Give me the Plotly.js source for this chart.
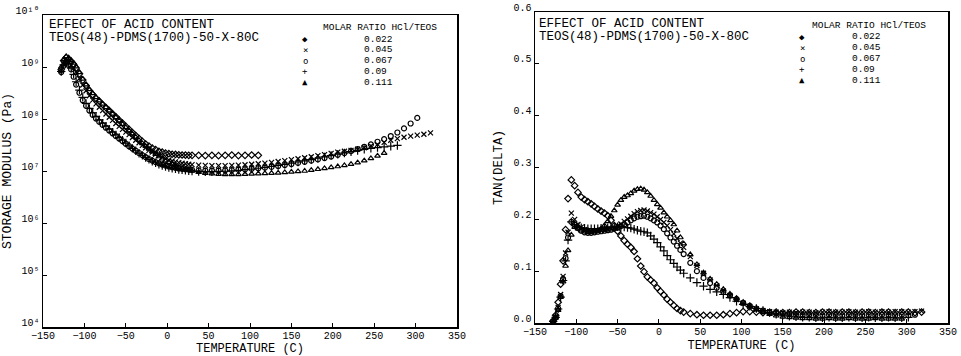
<!DOCTYPE html>
<html>
<head>
<meta charset="utf-8">
<script src="https://cdn.plot.ly/plotly-3.0.1.min.js"></script>
<style>html,body{margin:0;padding:0;background:#fff;}#chart{width:961px;height:356px;}</style>
</head>
<body>
<div id="chart"></div>
<script>
// Temperature grid (C) shared by all series
const temperature = [-128,-125,-122,-119,-116,-113,-110,-106,-102,-98,-94,-90,-86,-82,-78,-74,-70,-66,-62,-58,-54,-50,-46,-42,-38,-34,-30,-26,-22,-18,-14,-10,-6,-2,2,6,10,14,18,22,26,30,38,46,54,62,70,78,86,94,102,110,118,126,134,142,150,158,166,174,182,190,198,206,214,222,230,238,246,254,262,270,278,286,294,302,310,318];

// Molar ratio HCl/TEOS
const ratios = ['0.022', '0.045', '0.067', '0.09', '0.111'];

// Storage modulus (Pa)
const modulus_0022 = [8.9e8,1.32e9,1.51e9,1.41e9,1.26e9,1.12e9,9.5e8,7.4e8,5.6e8,4.4e8,3.5e8,2.95e8,2.5e8,2.2e8,1.9e8,1.66e8,1.45e8,1.26e8,1.1e8,9.5e7,8.3e7,7.2e7,6.3e7,5.5e7,4.8e7,4.2e7,3.7e7,3.3e7,3.0e7,2.75e7,2.57e7,2.4e7,2.3e7,2.2e7,2.15e7,2.1e7,2.08e7,2.05e7,2.03e7,2.02e7,2.0e7,2.0e7,2.0e7,1.98e7,2.0e7,1.97e7,2.0e7,2.02e7,1.98e7,2.0e7,2.03e7,2.0e7];
const modulus_0045 = [8.5e8,1.1e9,1.3e9,1.25e9,1.1e9,9.5e8,8.0e8,6.0e8,4.5e8,3.5e8,2.8e8,2.3e8,1.95e8,1.68e8,1.45e8,1.25e8,1.08e8,9.4e7,8.2e7,7.2e7,6.3e7,5.6e7,5.0e7,4.4e7,3.9e7,3.5e7,3.1e7,2.8e7,2.5e7,2.3e7,2.1e7,1.95e7,1.82e7,1.72e7,1.63e7,1.56e7,1.5e7,1.45e7,1.41e7,1.38e7,1.35e7,1.33e7,1.3e7,1.28e7,1.27e7,1.27e7,1.27e7,1.28e7,1.3e7,1.32e7,1.35e7,1.38e7,1.42e7,1.47e7,1.52e7,1.58e7,1.65e7,1.72e7,1.8e7,1.88e7,1.97e7,2.07e7,2.18e7,2.3e7,2.4e7,2.5e7,2.62e7,2.8e7,3.0e7,3.25e7,3.55e7,3.9e7,4.2e7,4.45e7,4.7e7,4.9e7,5.1e7,5.4e7];
const modulus_0067 = [8.0e8,1.05e9,1.2e9,1.1e9,9.0e8,6.5e8,4.6e8,3.2e8,2.3e8,1.8e8,1.45e8,1.2e8,1.02e8,8.8e7,7.7e7,6.8e7,6.0e7,5.3e7,4.7e7,4.2e7,3.75e7,3.35e7,3.0e7,2.7e7,2.45e7,2.22e7,2.02e7,1.85e7,1.7e7,1.58e7,1.48e7,1.4e7,1.33e7,1.27e7,1.22e7,1.18e7,1.15e7,1.12e7,1.1e7,1.08e7,1.06e7,1.05e7,1.03e7,1.02e7,1.02e7,1.02e7,1.03e7,1.04e7,1.06e7,1.08e7,1.1e7,1.13e7,1.16e7,1.2e7,1.25e7,1.3e7,1.36e7,1.43e7,1.5e7,1.58e7,1.67e7,1.77e7,1.9e7,2.05e7,2.22e7,2.42e7,2.65e7,2.92e7,3.25e7,3.65e7,4.1e7,4.7e7,5.5e7,6.6e7,8.2e7,1.05e8];
const modulus_0090 = [8.2e8,1.1e9,1.25e9,1.15e9,9.5e8,7.2e8,5.2e8,3.6e8,2.6e8,2.0e8,1.6e8,1.32e8,1.12e8,9.6e7,8.3e7,7.3e7,6.4e7,5.6e7,4.95e7,4.4e7,3.9e7,3.45e7,3.05e7,2.72e7,2.45e7,2.2e7,2.0e7,1.82e7,1.67e7,1.54e7,1.44e7,1.35e7,1.28e7,1.22e7,1.17e7,1.13e7,1.1e7,1.07e7,1.05e7,1.03e7,1.01e7,1.0e7,9.8e6,9.7e6,9.7e6,9.8e6,9.9e6,1.01e7,1.03e7,1.06e7,1.09e7,1.13e7,1.17e7,1.22e7,1.28e7,1.34e7,1.41e7,1.49e7,1.57e7,1.66e7,1.76e7,1.87e7,1.98e7,2.1e7,2.22e7,2.35e7,2.48e7,2.6e7,2.72e7,2.82e7,2.92e7,3.0e7,3.1e7];
const modulus_0111 = [1.0e9,1.4e9,1.6e9,1.5e9,1.35e9,1.2e9,1.02e9,7.9e8,5.9e8,4.6e8,3.7e8,3.1e8,2.6e8,2.25e8,1.95e8,1.68e8,1.45e8,1.25e8,1.08e8,9.3e7,8.0e7,6.9e7,6.0e7,5.2e7,4.5e7,3.9e7,3.4e7,3.0e7,2.65e7,2.35e7,2.1e7,1.9e7,1.72e7,1.58e7,1.46e7,1.36e7,1.27e7,1.2e7,1.14e7,1.09e7,1.04e7,1.0e7,9.5e6,9.1e6,8.9e6,8.7e6,8.6e6,8.6e6,8.6e6,8.7e6,8.8e6,8.9e6,9.0e6,9.1e6,9.2e6,9.4e6,9.6e6,9.8e6,1.0e7,1.04e7,1.08e7,1.12e7,1.17e7,1.22e7,1.28e7,1.35e7,1.45e7,1.58e7,1.75e7,1.95e7,2.2e7];

// Tan(delta)
const tan_0022 = [0.004,0.015,0.04,0.075,0.12,0.18,0.24,0.276,0.265,0.252,0.243,0.238,0.234,0.23,0.225,0.22,0.216,0.212,0.207,0.198,0.188,0.177,0.168,0.159,0.152,0.146,0.138,0.124,0.11,0.099,0.089,0.083,0.077,0.068,0.061,0.054,0.046,0.04,0.034,0.028,0.024,0.021,0.018,0.016,0.015,0.015,0.015,0.016,0.018,0.02,0.022,0.022,0.021,0.02,0.02,0.021,0.02,0.02,0.021,0.021,0.02,0.02,0.021,0.021,0.02,0.021,0.021,0.02,0.021,0.021,0.02,0.021,0.021,0.02,0.021,0.021,0.02,0.021];
const tan_0045 = [0.003,0.012,0.03,0.055,0.09,0.135,0.175,0.212,0.2,0.19,0.185,0.18,0.178,0.177,0.177,0.178,0.179,0.18,0.181,0.182,0.184,0.187,0.191,0.196,0.201,0.206,0.211,0.215,0.217,0.218,0.216,0.213,0.21,0.205,0.2,0.194,0.188,0.18,0.172,0.163,0.154,0.146,0.128,0.111,0.096,0.083,0.072,0.062,0.053,0.045,0.038,0.032,0.027,0.024,0.022,0.021,0.02,0.021,0.02,0.021,0.021,0.02,0.021,0.022,0.021,0.021,0.022,0.021,0.021,0.022,0.021,0.022,0.021,0.022,0.022,0.021,0.022,0.023];
const tan_0067 = [0.003,0.011,0.028,0.052,0.085,0.125,0.165,0.195,0.19,0.183,0.178,0.175,0.174,0.174,0.175,0.176,0.177,0.178,0.179,0.18,0.182,0.184,0.187,0.19,0.194,0.198,0.202,0.205,0.206,0.207,0.205,0.202,0.198,0.194,0.188,0.181,0.173,0.165,0.157,0.149,0.141,0.133,0.116,0.1,0.087,0.077,0.068,0.06,0.053,0.046,0.039,0.033,0.028,0.024,0.021,0.019,0.018,0.017,0.017,0.016,0.016,0.016,0.015,0.016,0.016,0.015,0.016,0.016,0.015,0.016,0.015,0.016,0.016,0.015,0.016,0.015,0.016];
const tan_0090 = [0.003,0.011,0.027,0.05,0.082,0.12,0.16,0.195,0.19,0.186,0.184,0.183,0.182,0.182,0.182,0.182,0.183,0.183,0.184,0.185,0.185,0.186,0.186,0.185,0.184,0.183,0.181,0.179,0.177,0.176,0.174,0.168,0.162,0.155,0.147,0.139,0.13,0.122,0.115,0.108,0.102,0.096,0.087,0.078,0.071,0.065,0.06,0.055,0.049,0.042,0.036,0.032,0.028,0.024,0.02,0.017,0.015,0.013,0.012,0.011,0.011,0.01,0.01,0.011,0.01,0.01,0.011,0.01,0.01,0.011,0.01,0.01,0.011,0.01,0.01,0.011];
const tan_0111 = [0.002,0.01,0.025,0.05,0.08,0.11,0.14,0.17,0.185,0.182,0.178,0.176,0.175,0.175,0.176,0.178,0.182,0.188,0.196,0.206,0.217,0.228,0.237,0.243,0.246,0.25,0.255,0.258,0.259,0.257,0.252,0.245,0.237,0.229,0.222,0.213,0.205,0.198,0.19,0.178,0.165,0.153,0.132,0.113,0.097,0.085,0.075,0.065,0.056,0.048,0.04,0.032,0.026,0.021,0.017,0.014,0.012,0.011,0.01,0.009,0.009,0.008,0.008,0.009,0.008,0.008,0.009,0.008,0.008,0.008,0.009,0.008,0.008,0.008,0.008];

// Axis tick labels
const modulusTickVals = [1e4, 1e5, 1e6, 1e7, 1e8, 1e9, 1e10];
const modulusTickText = ['10\u2074', '10\u2075', '10\u2076', '10\u2077', '10\u2078', '10\u2079', '10\u00B9\u2070'];

const modulusSeries = [modulus_0022, modulus_0045, modulus_0067, modulus_0090, modulus_0111];
const tanSeries = [tan_0022, tan_0045, tan_0067, tan_0090, tan_0111];

const symbols = ['diamond-open', 'x-thin-open', 'circle-open', 'cross-thin-open', 'triangle-up-open'];
const sizes = [5, 5, 5, 6, 5];
const legendGlyphs = ['\u25C6', '\u00D7', 'o', '+', '\u25B2'];

const W = 961, H = 356;
const px = v => v / W;
const py = v => 1 - v / H;
const MONO = 'Liberation Mono, DejaVu Sans Mono, monospace';

const traces = [];
ratios.forEach((r, i) => {
  const mk = {symbol: symbols[i], size: sizes[i], color: '#000', line: {color: '#000', width: 1.2}};
  traces.push({type: 'scatter', mode: 'markers', name: r, x: temperature.slice(0, modulusSeries[i].length), y: modulusSeries[i], xaxis: 'x', yaxis: 'y', marker: mk, showlegend: false});
  traces.push({type: 'scatter', mode: 'markers', name: r, x: temperature.slice(0, tanSeries[i].length), y: tanSeries[i], xaxis: 'x2', yaxis: 'y2', marker: mk, showlegend: false});
});

const axisCommon = {
  showline: true, mirror: true, linecolor: '#000', linewidth: 1.5,
  ticks: 'inside', ticklen: 4, tickwidth: 1, tickcolor: '#000',
  showgrid: false, zeroline: false,
  tickfont: {family: MONO, size: 10, color: '#000'}
};
const xTitle = {text: 'TEMPERATURE (C)', font: {family: MONO, size: 12, color: '#000'}, standoff: 4};

const annotations = [];
function addText(text, x, y, size, xanchor, family) {
  annotations.push({text: text, xref: 'paper', yref: 'paper', x: px(x), y: py(y), xanchor: xanchor || 'left', yanchor: 'middle', showarrow: false, font: {family: family || MONO, size: size, color: '#000'}});
}
// plot headings
addText('EFFECT OF ACID CONTENT', 47, 25, 12.5);
addText('TEOS(48)-PDMS(1700)-50-X-80C', 47, 38, 12.5);
addText('EFFECT OF ACID CONTENT', 537, 24, 12.5);
addText('TEOS(48)-PDMS(1700)-50-X-80C', 537, 37, 12.5);
// legends
const legends = [{titleX: 380, titleY: 27, symX: 305, valX: 362, rowY0: 39}, {titleX: 869, titleY: 25, symX: 802, valX: 850, rowY0: 37}];
legends.forEach(L => {
  addText('MOLAR RATIO HCl/TEOS', L.titleX, L.titleY, 9.5, 'center');
  ratios.forEach((r, i) => {
    addText(legendGlyphs[i], L.symX, L.rowY0 + i * 10.8, 9, 'center', 'DejaVu Sans Mono, DejaVu Sans');
    addText(r, L.valX, L.rowY0 + i * 10.8, 9.5);
  });
});

const layout = {
  width: W, height: H,
  margin: {l: 0, r: 0, t: 0, b: 0},
  paper_bgcolor: '#fff', plot_bgcolor: '#fff',
  showlegend: false,
  xaxis: Object.assign({}, axisCommon, {domain: [px(43), px(457)], range: [-150, 350], tick0: -150, dtick: 50, anchor: 'y', title: xTitle, ticklabelstandoff: -2}),
  yaxis: Object.assign({}, axisCommon, {domain: [py(327), py(15)], type: 'log', range: [4, 10], anchor: 'x',
    tickvals: modulusTickVals, ticktext: modulusTickText, ticklabelshift: -5,
    title: {text: 'STORAGE MODULUS (Pa)', font: {family: MONO, size: 13, color: '#000'}, standoff: 6}}),
  xaxis2: Object.assign({}, axisCommon, {domain: [px(535), px(948)], range: [-150, 350], tick0: -150, dtick: 50, anchor: 'y2', title: xTitle, ticklabelstandoff: -2}),
  yaxis2: Object.assign({}, axisCommon, {domain: [py(323), py(12)], range: [0, 0.6], dtick: 0.1, tickformat: '.1f', anchor: 'x2', ticklabelshift: -5,
    title: {text: 'TAN(DELTA)', font: {family: MONO, size: 12.5, color: '#000'}, standoff: 8}}),
  annotations: annotations
};

Plotly.newPlot('chart', traces, layout, {staticPlot: true, displayModeBar: false});
</script>
</body>
</html>
